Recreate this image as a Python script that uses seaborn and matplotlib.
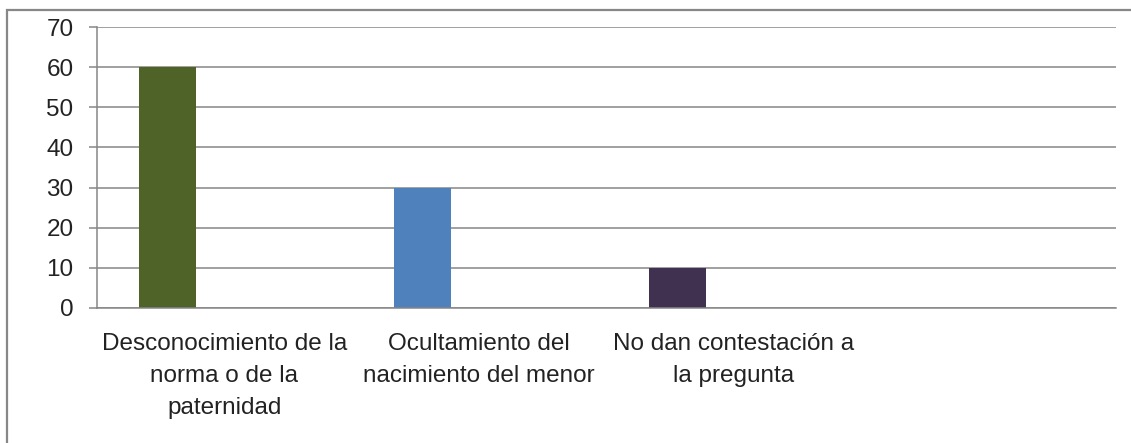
import matplotlib.pyplot as plt
import matplotlib.patches as mpatches
import numpy as np
import pandas as pd
import seaborn as sns

# Datos del gráfico
categorias = ["Desconocimiento de la\nnorma o de la\npaternidad",
              "Ocultamiento del\nnacimiento del menor",
              "No dan contestación a\nla pregunta",
              ""]
valores = [60, 30, 10, np.nan]
colores = ["#4F6228", "#4F81BD", "#403151"]
series = ["Serie 1", "Serie 2", "Serie 3"]
yticks = [0, 10, 20, 30, 40, 50, 60, 70]

df = pd.DataFrame({"Categoria": categorias, "Valor": valores, "Serie": series[0]})

sns.set_theme(style="white")
plt.rcParams['font.family'] = ['Liberation Sans', 'DejaVu Sans']

fig = plt.figure(figsize=(11.31, 4.43), dpi=100)
ax = fig.add_axes([97 / 1131, 1 - 308 / 443, (1116 - 97) / 1131, (308 - 27) / 443])

sns.barplot(data=df, x="Categoria", y="Valor", hue="Serie", hue_order=series, order=categorias,
            palette=dict(zip(series, colores)), width=2 / 3, dodge=True, legend=False,
            saturation=1, ax=ax, errorbar=None)

# cada barra con su propio color
barras = [p for p in ax.patches if np.isfinite(p.get_height()) and p.get_height() > 0]
for p, c in zip(barras, colores):
    p.set_facecolor(c)
    p.set_edgecolor(c)
    p.set_linewidth(0)

gris = "#868686"
ax.set_ylim(0, 70)
ax.set_xlim(-0.5, len(categorias) - 0.5)
ax.set_yticks(yticks)
ax.yaxis.grid(True, color=gris, linewidth=1.1)
ax.set_axisbelow(True)
ax.set_xlabel("")
ax.set_ylabel("")

for s in ["top", "right"]:
    ax.spines[s].set_visible(False)
for s in ["left", "bottom"]:
    ax.spines[s].set_color(gris)
    ax.spines[s].set_linewidth(1.1)

# etiquetas centradas, marcas entre categorías
ax.set_xticks(range(len(categorias)))
ax.set_xticklabels(categorias, fontsize=17.5, color="#222222", linespacing=1.6, va="top")
ax.set_xticks(np.arange(-0.5, len(categorias)), minor=True)
ax.tick_params(axis="x", which="major", length=0, pad=18)
ax.tick_params(axis="x", which="minor", length=6, width=1.1, color=gris, direction="out")
ax.tick_params(axis="y", length=6, width=1.1, color=gris, direction="out", pad=11,
               labelsize=17.5, labelcolor="#222222", left=True)

# borde del gráfico
fig.patches.append(mpatches.Rectangle((7 / 1131, -0.1), 1.2, 1 - 10 / 443 + 0.1,
                                      transform=fig.transFigure, fill=False,
                                      edgecolor="#878787", linewidth=1.6))

fig.savefig("out.png", dpi=100)
